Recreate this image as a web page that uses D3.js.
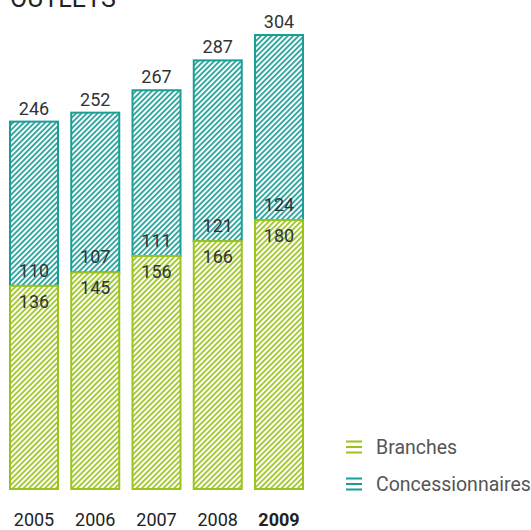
<!DOCTYPE html>
<html><head><meta charset="utf-8">
<script src="https://cdn.jsdelivr.net/npm/d3@7"></script>
<style>
html,body{margin:0;padding:0;background:#fff;}
svg{display:block;font-family:Roboto,"Noto Sans",sans-serif;}
</style></head>
<body>
<svg id="chart" width="531" height="530"></svg>
<script>
const years = ["2005","2006","2007","2008","2009"];
const branches = [136,145,156,166,180];
const concessionnaires = [110,107,111,121,124];
const totals = [246,252,267,287,304];
const seriesNames = ["Branches","Concessionnaires"];
const title = "OUTLETS";

const green = "#9bc31e", teal = "#1a9e96";
const svg = d3.select("#chart");
const defs = svg.append("defs");
function hatch(id, color){
  const p = defs.append("pattern").attr("id",id).attr("patternUnits","userSpaceOnUse")
    .attr("width",3.8).attr("height",10).attr("patternTransform","rotate(45)");
  p.append("rect").attr("width",3.8).attr("height",10).attr("fill","#fff");
  p.append("line").attr("x1",0.9).attr("x2",0.9).attr("y1",0).attr("y2",10)
    .attr("stroke",color).attr("stroke-width",1.7);
}
hatch("hg", green); hatch("ht", teal);

const x = d3.scaleBand().domain(years).range([10,303]).paddingInner(0.2163).paddingOuter(0);
const y = d3.scaleLinear().domain([0,304]).range([489,35]);

svg.append("text").attr("x",10).attr("y",7).attr("font-size",25).attr("fill","#222").text(title);

const data = years.map((yr,i)=>({yr, b:branches[i], c:concessionnaires[i], t:totals[i]}));
const g = svg.append("g");
data.forEach(d=>{
  const bx = x(d.yr), w = x.bandwidth();
  g.append("rect").attr("x",bx).attr("y",y(d.b+d.c)).attr("width",w).attr("height",y(d.b)-y(d.b+d.c))
    .attr("fill","url(#ht)").attr("stroke",teal).attr("stroke-width",2);
  g.append("rect").attr("x",bx).attr("y",y(d.b)).attr("width",w).attr("height",y(0)-y(d.b))
    .attr("fill","url(#hg)").attr("stroke",green).attr("stroke-width",2);
  const cx = bx + w/2;
  const txt = (yy,s)=>g.append("text").attr("x",cx).attr("y",yy).attr("text-anchor","middle")
      .attr("font-size",18).attr("fill","#333").text(s);
  txt(y(d.t)-7, d.t);
  txt(y(d.b)-9, d.c);
  txt(y(d.b)+22, d.b);
  svg.append("text").attr("x",cx).attr("y",526).attr("text-anchor","middle").attr("font-size",18)
    .attr("font-weight", d.yr==="2009"?700:400).attr("fill","#222").text(d.yr);
});

const leg = [{n:seriesNames[0],c:green,y:447},{n:seriesNames[1],c:teal,y:484}];
leg.forEach(l=>{
  [-5.5,0,5.5].forEach(o=>svg.append("rect").attr("x",346).attr("y",l.y+o-1).attr("width",16).attr("height",2).attr("fill",l.c));
  svg.append("text").attr("x",376).attr("y",l.y+6.5).attr("font-size",19.5).attr("fill","#555").text(l.n);
});
</script>
</body></html>
